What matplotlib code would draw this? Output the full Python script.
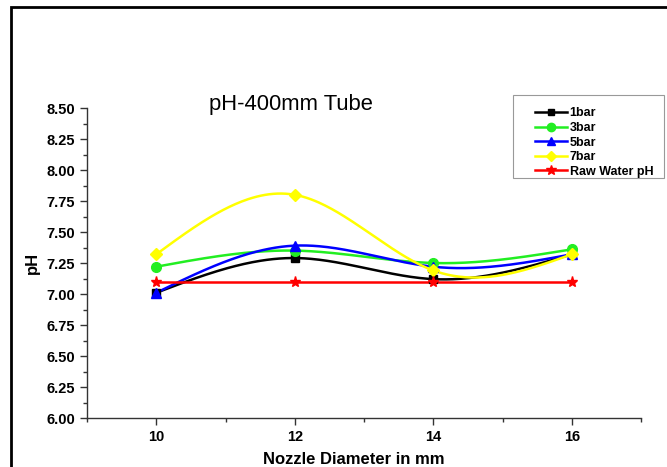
import numpy as np
import matplotlib
matplotlib.use("Agg")
import matplotlib.pyplot as plt
from matplotlib.patches import Rectangle
from matplotlib.ticker import MultipleLocator, FormatStrFormatter

plt.rcParams['font.family'] = ['Liberation Sans', 'DejaVu Sans']

nozzle = [10, 12, 14, 16]
ph_1bar = [7.01, 7.29, 7.12, 7.32]
ph_3bar = [7.22, 7.35, 7.25, 7.36]
ph_5bar = [7.01, 7.39, 7.22, 7.32]
ph_7bar = [7.32, 7.80, 7.19, 7.32]
ph_raw = [7.10, 7.10, 7.10, 7.10]
labels = ["1bar", "3bar", "5bar", "7bar", "Raw Water pH"]


def natural_spline(x, y, n=200):
    x = np.asarray(x, float)
    y = np.asarray(y, float)
    k = len(x)
    h = np.diff(x)
    A = np.zeros((k, k))
    b = np.zeros(k)
    A[0, 0] = 1
    A[-1, -1] = 1
    for i in range(1, k - 1):
        A[i, i - 1] = h[i - 1]
        A[i, i] = 2 * (h[i - 1] + h[i])
        A[i, i + 1] = h[i]
        b[i] = 6 * ((y[i + 1] - y[i]) / h[i] - (y[i] - y[i - 1]) / h[i - 1])
    M = np.linalg.solve(A, b)
    xs = np.linspace(x[0], x[-1], n)
    ys = np.empty_like(xs)
    for j, xv in enumerate(xs):
        i = min(np.searchsorted(x, xv, side='right') - 1, k - 2)
        t1 = x[i + 1] - xv
        t0 = xv - x[i]
        ys[j] = (M[i] * t1 ** 3 / (6 * h[i]) + M[i + 1] * t0 ** 3 / (6 * h[i])
                 + (y[i] / h[i] - M[i] * h[i] / 6) * t1
                 + (y[i + 1] / h[i] - M[i + 1] * h[i] / 6) * t0)
    return xs, ys


fig = plt.figure(figsize=(6.67, 4.67), dpi=100)
ax = fig.add_axes([87 / 667, 49 / 467, (641 - 87) / 667, (418 - 108) / 467])

series = [ph_1bar, ph_3bar, ph_5bar, ph_7bar, ph_raw]
colors = ["#000000", "#22ee22", "#0000ff", "#ffff00", "#ff0000"]
markers = ["s", "o", "^", "D", "*"]
msizes = [6, 7, 7, 6, 8]

handles = []
for ys, c, m, ms, lab in zip(series, colors, markers, msizes, labels):
    sx, sy = natural_spline(nozzle, ys)
    ax.plot(sx, sy, color=c, lw=1.8, zorder=2)
    ax.plot(nozzle, ys, linestyle='none', marker=m, color=c, ms=ms, zorder=3)
    h, = ax.plot([], [], color=c, lw=1.8, marker=m, ms=ms - 1, label=lab)
    handles.append(h)

ax.set_xlim(9, 17)
ax.set_ylim(6.0, 8.5)
ax.xaxis.set_major_locator(MultipleLocator(2))
ax.xaxis.set_minor_locator(MultipleLocator(1))
ax.yaxis.set_major_locator(MultipleLocator(0.25))
ax.yaxis.set_minor_locator(MultipleLocator(0.125))
ax.yaxis.set_major_formatter(FormatStrFormatter('%.2f'))
ax.set_xticks([10, 12, 14, 16])
for s in ['top', 'right']:
    ax.spines[s].set_visible(False)
for s in ['left', 'bottom']:
    ax.spines[s].set_color('#333333')
    ax.spines[s].set_linewidth(1.0)
ax.tick_params(which='major', length=5, width=1, color='#333333', labelsize=10.5)
ax.tick_params(which='minor', length=3, width=1, color='#333333')
for t in ax.get_xticklabels() + ax.get_yticklabels():
    t.set_fontweight('bold')

ax.set_xlabel("Nozzle Diameter in mm", fontsize=12, fontweight='bold')
ax.xaxis.set_label_coords((354 - 87) / 554, -34.5 / 310)
ax.set_ylabel("pH", fontsize=12, fontweight='bold')
ax.yaxis.set_label_coords(-47 / 554, 0.5)

ax.text(11.95, 8.53, "pH-400mm Tube", fontsize=15.8, ha='center', va='center',
        clip_on=False)

leg = fig.legend(handles=handles, loc='upper left',
                 bbox_to_anchor=(535 / 667, 1 - 107.5 / 467),
                 frameon=False,
                 prop={'weight': 'bold', 'size': 9},
                 handlelength=2.56, handletextpad=0.2, labelspacing=0.2,
                 borderpad=0, borderaxespad=0)

fig.patches.append(Rectangle((513 / 667, 1 - 178 / 467), (664 - 513) / 667,
                             (178 - 95) / 467, transform=fig.transFigure,
                             fill=False, edgecolor='#999999', lw=0.8, zorder=1))

fig.patches.append(Rectangle((11 / 667, -0.1), 1.2, 1 - 7 / 467 + 0.1,
                             transform=fig.transFigure, fill=False,
                             edgecolor='black', lw=2.0, zorder=0))

fig.savefig("out.png", dpi=100)
